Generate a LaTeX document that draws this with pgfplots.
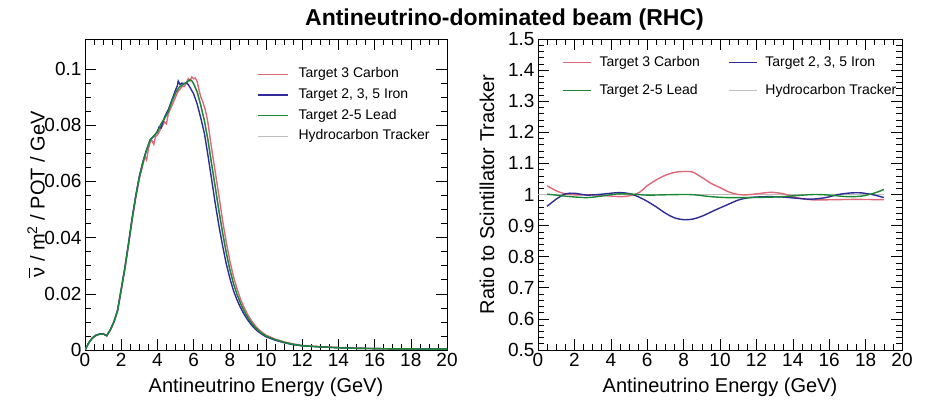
\documentclass[border=0pt]{standalone}
\usepackage{fontspec}
\setmainfont{Liberation Sans}
\usepackage{pgfplots}
\pgfplotsset{compat=1.18}

\definecolor{cCarbon}{RGB}{222,104,120}
\definecolor{cIron}{RGB}{48,44,150}
\definecolor{cLead}{RGB}{24,135,55}
\definecolor{cTracker}{RGB}{190,190,190}

\pgfplotsset{
  rootstyle/.style={
    scale only axis, anchor=south west,
    xmin=0, xmax=20, xtick={0,2,...,20}, minor x tick num=3,
    tick align=inside, major tick length=11pt, minor tick length=6pt,
    tick style={black, line width=0.6pt},
    axis line style={line width=0.9pt},
    /pgf/number format/assume math mode=true,
    tick label style={font=\fontsize{19}{19}\selectfont},
    label style={font=\fontsize{20}{20}\selectfont},
    xlabel={Antineutrino Energy (GeV)},
    xlabel style={at={(axis description cs:0.5,-0.119)}, anchor=center},
    legend cell align=left,
    every axis plot/.append style={line width=1.4pt},
  }
}

% flux spectra, units of 1e-3 nu-bar / m^2 / POT / GeV
\pgfplotstableread{
E      v
0      0
0.2    0.0024
0.4    0.0041
0.6    0.0051
0.8    0.0056
1.0    0.0058
1.2    0.0050
1.4    0.0071
1.6    0.0099
1.8    0.0140
2.0    0.0212
2.2    0.0287
2.4    0.0372
2.6    0.0460
2.8    0.0540
3.0    0.0608
3.2    0.0660
3.3    0.0690
3.4    0.0676
3.5    0.0715
3.6    0.0740
3.7    0.0745
3.8    0.0732
3.9    0.0760
4.0    0.0765
4.2    0.0790
4.3    0.0800
4.4    0.0812
4.5    0.0805
4.6    0.0840
4.8    0.0870
4.9    0.0885
5.0    0.0900
5.1    0.0915
5.2    0.0925
5.4    0.0940
5.5    0.0938
5.6    0.0950
5.7    0.0966
5.8    0.0958
5.9    0.0972
6.0    0.0965
6.1    0.0968
6.2    0.0955
6.3    0.0925
6.4    0.0900
6.5    0.0885
6.6    0.0865
6.7    0.0840
6.8    0.0805
7.0    0.0715
7.2    0.0632
7.4    0.0548
7.6    0.0462
7.8    0.0385
8.0    0.0318
8.2    0.0262
8.4    0.0218
8.6    0.0180
8.8    0.0150
9.0    0.0125
9.2    0.0104
9.4    0.0087
9.6    0.0073
9.8    0.0062
10.0   0.0053
10.5   0.0039
11.0   0.0029
11.5   0.0022
12.0   0.0016
13.0   0.0012
14.0   0.0009
15.0   0.0007
16.0   0.0005
17.0   0.0004
18.0   0.0004
19.0   0.0003
20.0   0.0003
}\fluxCarbon

\pgfplotstableread{
E      v
0      0
0.2    0.0025
0.4    0.0043
0.6    0.0053
0.8    0.0057
1.0    0.0058
1.2    0.0051
1.4    0.0072
1.6    0.0101
1.8    0.0142
2.0    0.0216
2.2    0.0292
2.4    0.0378
2.6    0.0468
2.8    0.0548
3.0    0.0618
3.2    0.0670
3.4    0.0712
3.6    0.0748
3.8    0.0760
4.0    0.0778
4.1    0.0795
4.2    0.0790
4.4    0.0830
4.6    0.0855
4.8    0.0890
5.0    0.0925
5.1    0.0940
5.15   0.0957
5.25   0.0945
5.35   0.0950
5.5    0.0948
5.6    0.0952
5.7    0.0945
5.8    0.0935
6.0    0.0912
6.2    0.0875
6.4    0.0825
6.6    0.0770
6.8    0.0690
7.0    0.0605
7.2    0.0520
7.4    0.0442
7.6    0.0372
7.8    0.0308
8.0    0.0256
8.2    0.0212
8.4    0.0178
8.6    0.0150
8.8    0.0126
9.0    0.0106
9.2    0.0089
9.4    0.0075
9.6    0.0064
9.8    0.0055
10.0   0.0047
10.5   0.0035
11.0   0.0026
11.5   0.0019
12.0   0.0015
13.0   0.0011
14.0   0.0008
15.0   0.0006
16.0   0.0005
17.0   0.0004
18.0   0.0004
19.0   0.0003
20.0   0.0003
}\fluxIron

\pgfplotstableread{
E      v
0      0
0.2    0.0025
0.4    0.0042
0.6    0.0052
0.8    0.0056
1.0    0.0057
1.2    0.0051
1.4    0.0072
1.6    0.0100
1.8    0.0140
2.0    0.0215
2.2    0.0290
2.4    0.0375
2.6    0.0465
2.8    0.0545
3.0    0.0615
3.2    0.0668
3.4    0.0712
3.6    0.0748
3.8    0.0762
4.0    0.0775
4.2    0.0805
4.4    0.0825
4.6    0.0848
4.8    0.0885
5.0    0.0915
5.2    0.0935
5.4    0.0945
5.6    0.0952
5.8    0.0962
5.9    0.0958
6.0    0.0948
6.2    0.0918
6.4    0.0870
6.6    0.0815
6.8    0.0745
7.0    0.0660
7.2    0.0578
7.4    0.0495
7.6    0.0418
7.8    0.0348
8.0    0.0287
8.2    0.0237
8.4    0.0198
8.6    0.0165
8.8    0.0138
9.0    0.0115
9.2    0.0096
9.4    0.0081
9.6    0.0068
9.8    0.0058
10.0   0.0050
10.5   0.0037
11.0   0.0027
11.5   0.0020
12.0   0.0015
13.0   0.0011
14.0   0.0008
15.0   0.0006
16.0   0.0005
17.0   0.0004
18.0   0.0004
19.0   0.0003
20.0   0.0003
}\fluxLead

% ratios to the scintillator tracker
\pgfplotstableread{
E     r
0.5   1.028
1.0   1.012
1.5   1.002
2.0   0.999
3.0   0.999
4.0   0.995
4.6   0.993
5.2   0.998
5.6   1.008
6.0   1.028
6.5   1.047
7.0   1.062
7.5   1.071
8.0   1.074
8.5   1.072
9.0   1.055
9.5   1.036
10.0  1.022
10.5  1.008
11.0  1.000
11.5  0.999
12.0  1.002
12.8  1.007
13.5  1.002
14.2  0.990
15.0  0.983
16.0  0.983
17.0  0.984
18.0  0.984
19.0  0.983
}\ratioCarbon

\pgfplotstableread{
E     r
0.5   0.962
1.0   0.985
1.5   1.002
2.0   1.004
2.7   0.998
3.5   1.001
4.4   1.006
5.0   1.003
5.5   0.993
6.0   0.978
6.5   0.960
7.0   0.940
7.5   0.925
8.0   0.919
8.5   0.921
9.0   0.930
9.7   0.949
10.4  0.967
11.0  0.982
11.6  0.990
12.5  0.993
13.4  0.992
14.2  0.988
15.0  0.985
15.8  0.990
16.5  1.000
17.2  1.005
17.8  1.005
18.5  0.998
19.0  0.990
}\ratioIron

\pgfplotstableread{
E     r
0.5   1.001
1.0   0.998
1.8   0.993
2.7   0.990
3.5   0.995
4.4   1.002
5.2   1.001
6.0   0.998
7.0   0.999
8.0   1.000
8.6   0.999
9.5   0.993
10.4  0.990
11.5  0.990
12.5  0.991
13.4  0.993
14.3  0.997
15.2  1.000
16.0  0.998
17.0  0.993
17.8  0.995
18.5  1.005
19.0  1.016
}\ratioLead

\newcommand{\nubar}{\makebox[0pt][l]{\raisebox{0.72em}{\rule{0.5em}{0.07em}}}ν}

\begin{document}
\begin{tikzpicture}[x=1pt,y=1pt]
\path[use as bounding box] (0,0) rectangle (931,403);

\node[anchor=base, font=\fontsize{23}{23}\selectfont\bfseries, inner sep=0pt] at (504.5,377) {Antineutrino-dominated beam (RHC)};

% ---------------- flux panel ----------------
\begin{axis}[rootstyle,
  at={(85pt,53pt)}, width=362pt, height=311pt,
  ymin=0, ymax=0.1107,
  ytick={0,0.02,0.04,0.06,0.08,0.1},
  yticklabels={0,0.02,0.04,0.06,0.08,0.1},
  minor y tick num=3,
  ylabel={\nubar{} / m\textsuperscript{2} / POT / GeV},
  ylabel style={at={(axis description cs:-0.135,0.5)}, anchor=center},
  legend style={at={(axis description cs:0.475,0.908)}, anchor=north west,
    draw=none, fill=none, inner sep=0pt, row sep=7.7pt,
    nodes={inner sep=0pt, text height=10pt, text depth=3pt},
    font=\fontsize{14}{14}\selectfont,
    /tikz/every odd column/.append style={column sep=10pt}},
  legend image code/.code={\draw[#1] (0pt,0pt) -- (30pt,0pt);},
]
\addplot[cTracker, forget plot] table[x=E,y=v] {\fluxLead};
\addplot[cCarbon] table[x=E,y=v] {\fluxCarbon};
\addlegendentry{Target 3 Carbon}
\addplot[cIron] table[x=E,y=v] {\fluxIron};
\addlegendentry{Target 2, 3, 5 Iron}
\addplot[cLead] table[x=E,y=v] {\fluxLead};
\addlegendentry{Target 2-5 Lead}
\addlegendimage{cTracker, line width=1.4pt}
\addlegendentry{Hydrocarbon Tracker}
\node[anchor=base west, font=\fontsize{18}{18}\selectfont, inner sep=0pt]
  at (axis description cs:0,1) [yshift=4pt] {×10\raisebox{0.5em}{\fontsize{13}{13}\selectfont −3}};
\end{axis}

% ---------------- ratio panel ----------------
\begin{axis}[rootstyle,
  at={(538pt,53pt)}, width=364pt, height=311pt,
  ymin=0.5, ymax=1.5,
  ytick={0.5,0.6,...,1.5},
  yticklabels={0.5,0.6,0.7,0.8,0.9,1,1.1,1.2,1.3,1.4,1.5},
  minor y tick num=4,
  ylabel={Ratio to Scintillator Tracker},
  ylabel style={at={(axis description cs:-0.140,0.5)}, anchor=center},
  legend columns=2,
  legend style={at={(axis description cs:0.066,0.945)}, anchor=north west,
    draw=none, fill=none, inner sep=0pt, row sep=15pt,
    nodes={inner sep=0pt, text height=10pt, text depth=3pt},
    font=\fontsize{14}{14}\selectfont,
    /tikz/every odd column/.append style={column sep=8pt},
    /tikz/every even column/.append style={column sep=28pt}},
  legend image code/.code={\draw[#1] (0pt,0pt) -- (28pt,0pt);},
]
\addplot[cTracker, forget plot] coordinates {(0,1) (19,1)};
\addplot[cCarbon, smooth] table[x=E,y=r] {\ratioCarbon};
\addlegendentry{Target 3 Carbon}
\addplot[cIron, smooth] table[x=E,y=r] {\ratioIron};
\addlegendentry{Target 2, 3, 5 Iron}
\addplot[cLead, smooth] table[x=E,y=r] {\ratioLead};
\addlegendentry{Target 2-5 Lead}
\addlegendimage{cTracker, line width=1.4pt}
\addlegendentry{Hydrocarbon Tracker}
\end{axis}
\end{tikzpicture}
\end{document}
